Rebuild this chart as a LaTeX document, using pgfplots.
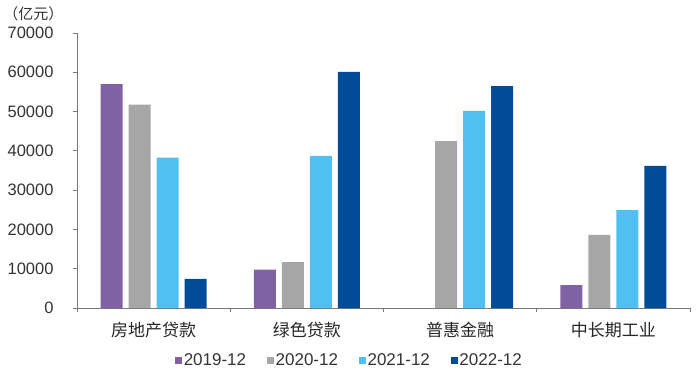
\documentclass[border=0pt]{standalone}
\usepackage{pgfplots}
\pgfplotsset{compat=1.18}
\usepackage{fontspec}
\setmainfont{Liberation Sans}
\newfontfamily\cjk{Noto Sans CJK SC}
\definecolor{cpurple}{RGB}{128,98,164}
\definecolor{cgray}{RGB}{166,166,166}
\definecolor{clblue}{RGB}{80,192,242}
\definecolor{cdblue}{RGB}{0,76,152}
\definecolor{caxis}{RGB}{120,120,120}
\begin{document}
\begin{tikzpicture}
\path[use as bounding box] (-77bp,-68bp) rectangle (623bp,308bp);
\begin{axis}[
  at={(0,0)}, anchor=south west,
  scale only axis, width=613bp, height=275bp,
  ymin=0, ymax=70000, ytick={0,10000,...,70000},
  scaled y ticks=false,
  xmin=-0.5, xmax=3.5, xtick={0,1,2,3},
  xticklabels={房地产贷款,绿色贷款,普惠金融,中长期工业},
  minor xtick={-0.5,0.5,1.5,2.5,3.5},
  major x tick style={draw=none},
  tick align=outside, major tick length=4bp, minor tick length=4bp,
  tick style={caxis, line width=0.8bp},
  axis x line*=bottom, axis y line*=left,
  axis line style={draw=caxis, line width=0.8bp},
  yticklabel={\pgfmathprintnumber[fixed,precision=0,1000 sep={},assume math mode=true]{\tick}},
  yticklabel style={font=\fontsize{16.5bp}{18bp}\selectfont, text=black!80, xshift=-16bp},
  xticklabel style={font=\cjk\fontsize{17bp}{19bp}\selectfont, text=black!85, yshift=-7bp},
  ybar=6bp, bar width=22bp,
  legend columns=4,
  legend style={draw=none, fill=none, at={(0.160,-0.19)}, anchor=west,
    font=\fontsize{17bp}{19bp}\selectfont, text=black!80, inner sep=0pt,
    nodes={inner sep=1.5bp},
    /tikz/every even column/.append style={column sep=19.5bp}},
  legend image code/.code={\fill[#1] (0bp,-3.5bp) rectangle (7bp,3.5bp);},
  clip=false,
]
\addplot[fill=cpurple, draw=none] coordinates {(0,57000) (1,9800) (3,5800)};
\addplot[fill=cgray, draw=none] coordinates {(0,51800) (1,11700) (2,42500) (3,18600)};
\addplot[fill=clblue, draw=none] coordinates {(0,38300) (1,38700) (2,50200) (3,24900)};
\addplot[fill=cdblue, draw=none] coordinates {(0,7400) (1,60100) (2,56500) (3,36200)};
\legend{2019-12,2020-12,2021-12,2022-12}
\node[font=\cjk\fontsize{15bp}{17bp}\selectfont, text=black!80] at (axis description cs:-0.071,1.071) {（亿元）};
\end{axis}
\end{tikzpicture}
\end{document}
